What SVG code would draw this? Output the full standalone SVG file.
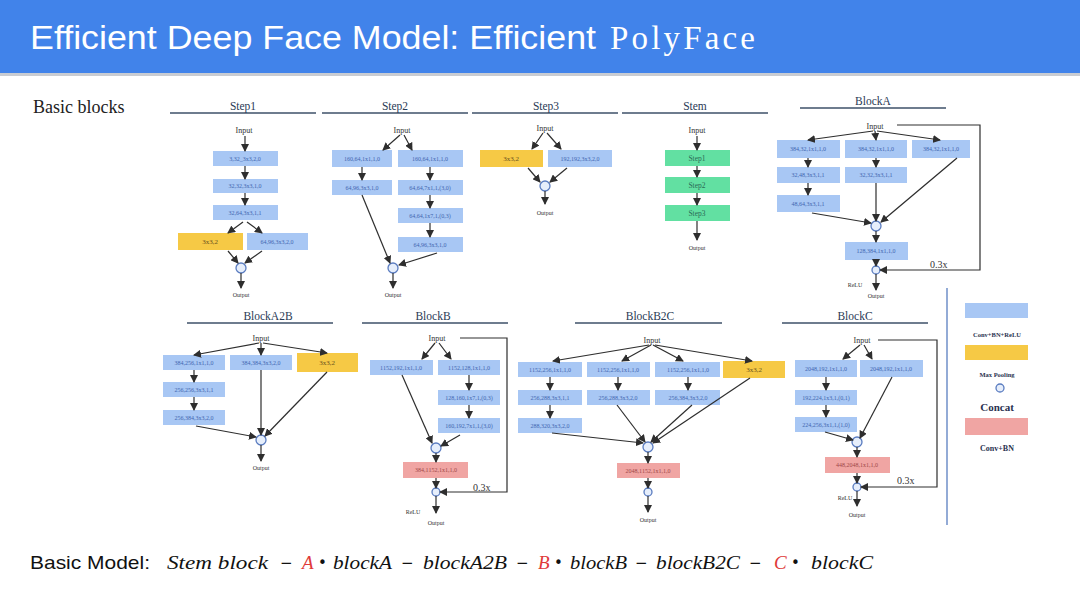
<svg xmlns="http://www.w3.org/2000/svg" width="1080" height="607" viewBox="0 0 1080 607">
<defs>
<marker id="arr" markerWidth="8" markerHeight="8" refX="7" refY="4" orient="auto" markerUnits="userSpaceOnUse">
<path d="M0,0 L8,4 L0,8 Z" fill="#2e2e2e"/>
</marker>
<style>
.b{fill:#a8c7f4;}
.y{fill:#f6c945;}
.g{fill:#62e0a2;}
.p{fill:#f0a5a3;}
.bt{font-family:"Liberation Serif",serif;font-size:6px;fill:#3f66b0;text-anchor:middle;}
.yt{font-family:"Liberation Serif",serif;font-size:7px;fill:#6a5420;text-anchor:middle;}
.gt{font-family:"Liberation Serif",serif;font-size:7.5px;fill:#2b6b57;text-anchor:middle;}
.pt{font-family:"Liberation Serif",serif;font-size:6px;fill:#a04848;text-anchor:middle;}
.in{font-family:"Liberation Serif",serif;font-size:8px;fill:#333;text-anchor:middle;}
.out{font-family:"Liberation Serif",serif;font-size:6px;fill:#333;text-anchor:middle;}
.sec{font-family:"Liberation Serif",serif;font-size:11.5px;fill:#2a3a55;text-anchor:middle;}
.ul{stroke:#3e5068;stroke-width:1.3;}
.c line,.c polyline{stroke:#2e2e2e;stroke-width:1.2;fill:none;marker-end:url(#arr);}
.cc{fill:#e6eefb;stroke:#5a7cc0;stroke-width:1.3;}
.lt{font-family:"Liberation Serif",serif;fill:#2a3250;text-anchor:middle;font-weight:bold;}
.sm{font-family:"Liberation Serif",serif;font-size:10px;fill:#333;}
.fm{font-family:"Liberation Serif",serif;font-style:italic;fill:#111;}
.fr{font-family:"Liberation Serif",serif;font-style:italic;fill:#e03a3a;}
.op{font-family:"DejaVu Sans",sans-serif;fill:#111;font-size:15px;}
</style>
</defs>
<rect x="0" y="0" width="1080" height="607" fill="#ffffff"/>
<!-- title bar -->
<rect x="0" y="0" width="1080" height="73" fill="#4183ea"/>
<rect x="0" y="73" width="1080" height="3" fill="#c9ccd2"/>
<text x="30" y="49" font-family="Liberation Sans, Arial, sans-serif" font-size="34" fill="#ffffff" textLength="566" lengthAdjust="spacingAndGlyphs">Efficient Deep Face Model: Efficient</text>
<text x="610" y="49" font-family="Liberation Serif, serif" font-size="33" fill="#ffffff" textLength="145" lengthAdjust="spacing">PolyFace</text>
<text x="33" y="113" font-family="Liberation Serif, serif" font-size="18" fill="#222">Basic blocks</text>

<!-- section headers -->
<g id="headers">
<text class="sec" x="243" y="110">Step1</text><line class="ul" x1="170" y1="113" x2="316" y2="113"/>
<text class="sec" x="395" y="110">Step2</text><line class="ul" x1="322" y1="113" x2="468" y2="113"/>
<text class="sec" x="546" y="110">Step3</text><line class="ul" x1="472" y1="113" x2="618" y2="113"/>
<text class="sec" x="695" y="110">Stem</text><line class="ul" x1="622" y1="113" x2="768" y2="113"/>
<text class="sec" x="873" y="105">BlockA</text><line class="ul" x1="800" y1="108" x2="946" y2="108"/>
<text class="sec" x="268" y="320">BlockA2B</text><line class="ul" x1="187" y1="323" x2="333" y2="323"/>
<text class="sec" x="433" y="320">BlockB</text><line class="ul" x1="362" y1="323" x2="508" y2="323"/>
<text class="sec" x="650" y="320">BlockB2C</text><line class="ul" x1="575" y1="323" x2="722" y2="323"/>
<text class="sec" x="855" y="320">BlockC</text><line class="ul" x1="782" y1="323" x2="928" y2="323"/>
</g>
<line x1="947" y1="288" x2="947" y2="525" stroke="#6f8fc8" stroke-width="1.5"/>

<!-- Step1 -->
<g id="step1">
<text class="in" x="244" y="133">Input</text>
<rect class="b" x="213" y="151" width="65" height="15"/><text class="bt" x="245" y="161">3,32_3x3,2,0</text>
<rect class="b" x="213" y="179" width="65" height="14"/><text class="bt" x="245" y="188">32,32,3x3,1,0</text>
<rect class="b" x="213" y="205" width="65" height="15"/><text class="bt" x="245" y="215">32,64,3x3,1,1</text>
<rect class="y" x="178" y="233" width="65" height="17"/><text class="yt" x="210" y="244">3x3,2</text>
<rect class="b" x="247" y="233" width="61" height="17"/><text class="bt" x="277" y="244">64,96,3x3,2,0</text>
<circle class="cc" cx="241" cy="268" r="5"/>
<text class="out" x="241" y="297">Output</text>
</g>
<!-- Step2 -->
<g id="step2">
<text class="in" x="402" y="133">Input</text>
<rect class="b" x="332" y="150" width="60" height="17"/><text class="bt" x="362" y="161">160,64,1x1,1,0</text>
<rect class="b" x="398" y="150" width="65" height="17"/><text class="bt" x="430" y="161">160,64,1x1,1,0</text>
<rect class="b" x="332" y="180" width="60" height="15"/><text class="bt" x="362" y="190">64,96,3x3,1,0</text>
<rect class="b" x="398" y="180" width="65" height="15"/><text class="bt" x="430" y="190">64,64,7x1,1,(3,0)</text>
<rect class="b" x="398" y="208" width="65" height="15"/><text class="bt" x="430" y="218">64,64,1x7,1,(0,3)</text>
<rect class="b" x="398" y="237" width="65" height="15"/><text class="bt" x="430" y="247">64,96,3x3,1,0</text>
<circle class="cc" cx="393" cy="268" r="5"/>
<text class="out" x="393" y="297">Output</text>
</g>
<!-- Step3 -->
<g id="step3">
<text class="in" x="545" y="131">Input</text>
<rect class="y" x="480" y="150" width="63" height="17"/><text class="yt" x="511" y="161">3x3,2</text>
<rect class="b" x="548" y="150" width="64" height="17"/><text class="bt" x="580" y="161">192,192,3x3,2,0</text>
<circle class="cc" cx="545" cy="186" r="5"/>
<text class="out" x="545" y="215">Output</text>
</g>
<!-- Stem -->
<g id="stem">
<text class="in" x="697" y="133">Input</text>
<rect class="g" x="665" y="150" width="65" height="16"/><text class="gt" x="697" y="161">Step1</text>
<rect class="g" x="665" y="177" width="65" height="16"/><text class="gt" x="697" y="188">Step2</text>
<rect class="g" x="665" y="205" width="65" height="16"/><text class="gt" x="697" y="216">Step3</text>
<text class="out" x="697" y="250">Output</text>
</g>
<!-- BlockA -->
<g id="blockA">
<text class="in" x="875" y="129">Input</text>
<rect class="b" x="777" y="140" width="63" height="18"/><text class="bt" x="808" y="151">384,32,1x1,1,0</text>
<rect class="b" x="845" y="140" width="62" height="18"/><text class="bt" x="876" y="151">384,32,1x1,1,0</text>
<rect class="b" x="912" y="140" width="58" height="18"/><text class="bt" x="941" y="151">384,32,1x1,1,0</text>
<rect class="b" x="777" y="167" width="63" height="16"/><text class="bt" x="808" y="177">32,48,3x3,1,1</text>
<rect class="b" x="845" y="167" width="62" height="16"/><text class="bt" x="876" y="177">32,32,3x3,1,1</text>
<rect class="b" x="777" y="195" width="63" height="17"/><text class="bt" x="808" y="206">48,64,3x3,1,1</text>
<circle class="cc" cx="876" cy="226" r="5"/>
<rect class="b" x="845" y="242" width="63" height="18"/><text class="bt" x="876" y="253">128,384,1x1,1,0</text>
<circle class="cc" cx="876" cy="270" r="4"/>
<text class="out" x="855" y="287" font-size="7">ReLU</text>
<text class="out" x="876" y="298">Output</text>
<text class="sm" x="930" y="268">0.3x</text>
</g>
<!-- BlockA2B -->
<g id="blockA2B">
<text class="in" x="261" y="341">Input</text>
<rect class="b" x="163" y="355" width="62" height="15"/><text class="bt" x="194" y="365">384,256,1x1,1,0</text>
<rect class="b" x="230" y="355" width="62" height="15"/><text class="bt" x="261" y="365">384,384,3x3,2,0</text>
<rect class="y" x="297" y="353" width="61" height="19"/><text class="yt" x="327" y="365">3x3,2</text>
<rect class="b" x="163" y="382" width="62" height="15"/><text class="bt" x="194" y="392">256,256,3x3,1,1</text>
<rect class="b" x="163" y="410" width="62" height="15"/><text class="bt" x="194" y="420">256,384,3x3,2,0</text>
<circle class="cc" cx="261" cy="440" r="5"/>
<text class="out" x="261" y="470">Output</text>
</g>
<!-- BlockB -->
<g id="blockB">
<text class="in" x="437" y="341">Input</text>
<rect class="b" x="370" y="360" width="63" height="15"/><text class="bt" x="401" y="370">1152,192,1x1,1,0</text>
<rect class="b" x="438" y="360" width="62" height="15"/><text class="bt" x="469" y="370">1152,128,1x1,1,0</text>
<rect class="b" x="438" y="390" width="62" height="15"/><text class="bt" x="469" y="400">128,160,1x7,1,(0,3)</text>
<rect class="b" x="438" y="418" width="62" height="15"/><text class="bt" x="469" y="428">160,192,7x1,1,(3,0)</text>
<circle class="cc" cx="436" cy="448" r="5"/>
<rect class="p" x="403" y="462" width="65" height="16"/><text class="pt" x="436" y="472">384,1152,1x1,1,0</text>
<circle class="cc" cx="436" cy="492" r="4"/>
<text class="out" x="413" y="514" font-size="7">ReLU</text>
<text class="out" x="436" y="525">Output</text>
<text class="sm" x="473" y="491">0.3x</text>
</g>
<!-- BlockB2C -->
<g id="blockB2C">
<text class="in" x="652" y="343">Input</text>
<rect class="b" x="518" y="362" width="64" height="15"/><text class="bt" x="550" y="372">1152,256,1x1,1,0</text>
<rect class="b" x="587" y="362" width="63" height="15"/><text class="bt" x="618" y="372">1152,256,1x1,1,0</text>
<rect class="b" x="655" y="362" width="65" height="15"/><text class="bt" x="688" y="372">1152,256,1x1,1,0</text>
<rect class="y" x="723" y="361" width="62" height="17"/><text class="yt" x="754" y="372">3x3,2</text>
<rect class="b" x="518" y="390" width="64" height="15"/><text class="bt" x="550" y="400">256,288,3x3,1,1</text>
<rect class="b" x="587" y="390" width="63" height="15"/><text class="bt" x="618" y="400">256,288,3x3,2,0</text>
<rect class="b" x="655" y="390" width="65" height="15"/><text class="bt" x="688" y="400">256,384,3x3,2,0</text>
<rect class="b" x="518" y="418" width="64" height="15"/><text class="bt" x="550" y="428">288,320,3x3,2,0</text>
<circle class="cc" cx="648" cy="447" r="5"/>
<rect class="p" x="617" y="463" width="63" height="15"/><text class="pt" x="648" y="473">2048,1152,1x1,1,0</text>
<circle class="cc" cx="648" cy="492" r="4"/>
<text class="out" x="648" y="522">Output</text>
</g>
<!-- BlockC -->
<g id="blockC">
<text class="in" x="862" y="343">Input</text>
<rect class="b" x="795" y="360" width="62" height="17"/><text class="bt" x="826" y="371">2048,192,1x1,1,0</text>
<rect class="b" x="860" y="360" width="63" height="17"/><text class="bt" x="891" y="371">2048,192,1x1,1,0</text>
<rect class="b" x="795" y="390" width="62" height="15"/><text class="bt" x="826" y="400">192,224,1x3,1,(0,1)</text>
<rect class="b" x="795" y="417" width="62" height="15"/><text class="bt" x="826" y="427">224,256,3x1,1,(1,0)</text>
<circle class="cc" cx="857" cy="442" r="5"/>
<rect class="p" x="825" y="457" width="65" height="16"/><text class="pt" x="857" y="467">448,2048,1x1,1,0</text>
<circle class="cc" cx="857" cy="487" r="4"/>
<text class="out" x="845" y="500" font-size="7">ReLU</text>
<text class="out" x="857" y="517">Output</text>
<text class="sm" x="897" y="484">0.3x</text>
</g>
<!-- legend -->
<g id="legend">
<rect class="b" x="965" y="303" width="63" height="15"/>
<text class="lt" x="997" y="337" font-size="6.5">Conv+BN+ReLU</text>
<rect class="y" x="965" y="345" width="63" height="15"/>
<text class="lt" x="997" y="377" font-size="6.5">Max Pooling</text>
<circle class="cc" cx="1000" cy="388" r="4"/>
<text class="lt" x="997" y="411" font-size="11">Concat</text>
<rect class="p" x="965" y="418" width="63" height="17"/>
<text class="lt" x="997" y="451" font-size="8">Conv+BN</text>
</g>

<!-- connectors -->
<g id="connectors" class="c">
<!-- step1 -->
<line x1="245" y1="136" x2="245" y2="151"/>
<line x1="245" y1="166" x2="245" y2="179"/>
<line x1="245" y1="193" x2="245" y2="205"/>
<line x1="243" y1="222" x2="228" y2="233"/>
<line x1="247" y1="222" x2="262" y2="233"/>
<line x1="228" y1="251" x2="238" y2="263"/>
<line x1="262" y1="251" x2="245" y2="263"/>
<line x1="241" y1="273" x2="241" y2="288"/>
<!-- step2 -->
<line x1="400" y1="135" x2="383" y2="150"/>
<line x1="404" y1="135" x2="412" y2="150"/>
<line x1="362" y1="167" x2="362" y2="180"/>
<line x1="430" y1="167" x2="430" y2="180"/>
<line x1="430" y1="195" x2="430" y2="208"/>
<line x1="430" y1="223" x2="430" y2="237"/>
<line x1="362" y1="195" x2="390" y2="263"/>
<line x1="437" y1="253" x2="399" y2="265"/>
<line x1="393" y1="273" x2="393" y2="288"/>
<!-- step3 -->
<line x1="543" y1="133" x2="532" y2="149"/>
<line x1="547" y1="133" x2="561" y2="149"/>
<line x1="528" y1="168" x2="540" y2="182"/>
<line x1="567" y1="168" x2="550" y2="182"/>
<line x1="545" y1="191" x2="545" y2="204"/>
<!-- stem -->
<line x1="697" y1="136" x2="697" y2="150"/>
<line x1="697" y1="166" x2="697" y2="177"/>
<line x1="697" y1="193" x2="697" y2="205"/>
<line x1="697" y1="221" x2="697" y2="240"/>
<!-- blockA -->
<line x1="873" y1="131" x2="808" y2="140"/>
<line x1="875" y1="131" x2="876" y2="140"/>
<line x1="877" y1="131" x2="940" y2="140"/>
<line x1="808" y1="158" x2="808" y2="167"/>
<line x1="808" y1="183" x2="808" y2="195"/>
<line x1="876" y1="158" x2="876" y2="167"/>
<line x1="812" y1="213" x2="871" y2="223"/>
<line x1="876" y1="183" x2="876" y2="221"/>
<line x1="957" y1="158" x2="881" y2="222"/>
<line x1="876" y1="231" x2="876" y2="242"/>
<line x1="876" y1="260" x2="876" y2="266"/>
<line x1="876" y1="274" x2="876" y2="290"/>
<polyline points="897,125 980,125 980,270 880,270"/>
<!-- blockA2B -->
<line x1="259" y1="343" x2="194" y2="355"/>
<line x1="261" y1="343" x2="261" y2="355"/>
<line x1="263" y1="343" x2="327" y2="353"/>
<line x1="194" y1="370" x2="194" y2="382"/>
<line x1="194" y1="397" x2="194" y2="410"/>
<line x1="196" y1="426" x2="256" y2="437"/>
<line x1="261" y1="370" x2="261" y2="435"/>
<line x1="327" y1="372" x2="265" y2="436"/>
<line x1="261" y1="445" x2="261" y2="461"/>
<!-- blockB -->
<line x1="435" y1="343" x2="422" y2="359"/>
<line x1="439" y1="343" x2="451" y2="359"/>
<line x1="469" y1="375" x2="469" y2="390"/>
<line x1="469" y1="405" x2="469" y2="418"/>
<line x1="402" y1="375" x2="432" y2="443"/>
<line x1="460" y1="435" x2="441" y2="446"/>
<line x1="436" y1="453" x2="436" y2="462"/>
<line x1="436" y1="478" x2="436" y2="488"/>
<line x1="436" y1="496" x2="436" y2="513"/>
<polyline points="460,338 507,338 507,492 440,492"/>
<!-- blockB2C -->
<line x1="649" y1="345" x2="553" y2="361"/>
<line x1="651" y1="345" x2="622" y2="361"/>
<line x1="653" y1="345" x2="683" y2="361"/>
<line x1="655" y1="345" x2="752" y2="361"/>
<line x1="550" y1="377" x2="550" y2="390"/>
<line x1="550" y1="405" x2="550" y2="418"/>
<line x1="618" y1="377" x2="618" y2="390"/>
<line x1="688" y1="377" x2="688" y2="390"/>
<line x1="552" y1="433" x2="643" y2="443"/>
<line x1="617" y1="405" x2="645" y2="442"/>
<line x1="692" y1="405" x2="651" y2="442"/>
<line x1="750" y1="378" x2="653" y2="443"/>
<line x1="648" y1="452" x2="648" y2="463"/>
<line x1="648" y1="478" x2="648" y2="488"/>
<line x1="648" y1="496" x2="648" y2="512"/>
<!-- blockC -->
<line x1="860" y1="345" x2="843" y2="359"/>
<line x1="864" y1="345" x2="872" y2="359"/>
<line x1="826" y1="377" x2="826" y2="390"/>
<line x1="826" y1="405" x2="826" y2="417"/>
<line x1="825" y1="432" x2="853" y2="440"/>
<line x1="892" y1="377" x2="860" y2="438"/>
<line x1="857" y1="447" x2="857" y2="457"/>
<line x1="857" y1="473" x2="857" y2="483"/>
<line x1="857" y1="491" x2="857" y2="506"/>
<polyline points="878,340 937,340 937,487 861,487"/>
</g>

<!-- formula -->
<g id="formula" font-size="19">
<text x="30" y="569" font-family="Liberation Sans, Arial, sans-serif" font-size="19" fill="#111" textLength="120" lengthAdjust="spacingAndGlyphs">Basic Model:</text>
<text class="fm" x="167" y="569" textLength="101" lengthAdjust="spacingAndGlyphs">Stem block</text>
<text class="op" x="280" y="568">−</text>
<text class="fr" x="302" y="569">A</text>
<text class="op" x="318" y="568" font-size="11">•</text>
<text class="fm" x="333" y="569" textLength="59" lengthAdjust="spacingAndGlyphs">blockA</text>
<text class="op" x="401" y="568">−</text>
<text class="fm" x="423" y="569" textLength="84" lengthAdjust="spacingAndGlyphs">blockA2B</text>
<text class="op" x="516" y="568">−</text>
<text class="fr" x="538" y="569">B</text>
<text class="op" x="554" y="568" font-size="11">•</text>
<text class="fm" x="570" y="569" textLength="57" lengthAdjust="spacingAndGlyphs">blockB</text>
<text class="op" x="635" y="568">−</text>
<text class="fm" x="656" y="569" textLength="84" lengthAdjust="spacingAndGlyphs">blockB2C</text>
<text class="op" x="749" y="568">−</text>
<text class="fr" x="774" y="569">C</text>
<text class="op" x="791" y="568" font-size="11">•</text>
<text class="fm" x="811" y="569" textLength="62" lengthAdjust="spacingAndGlyphs">blockC</text>
</g>
</svg>
